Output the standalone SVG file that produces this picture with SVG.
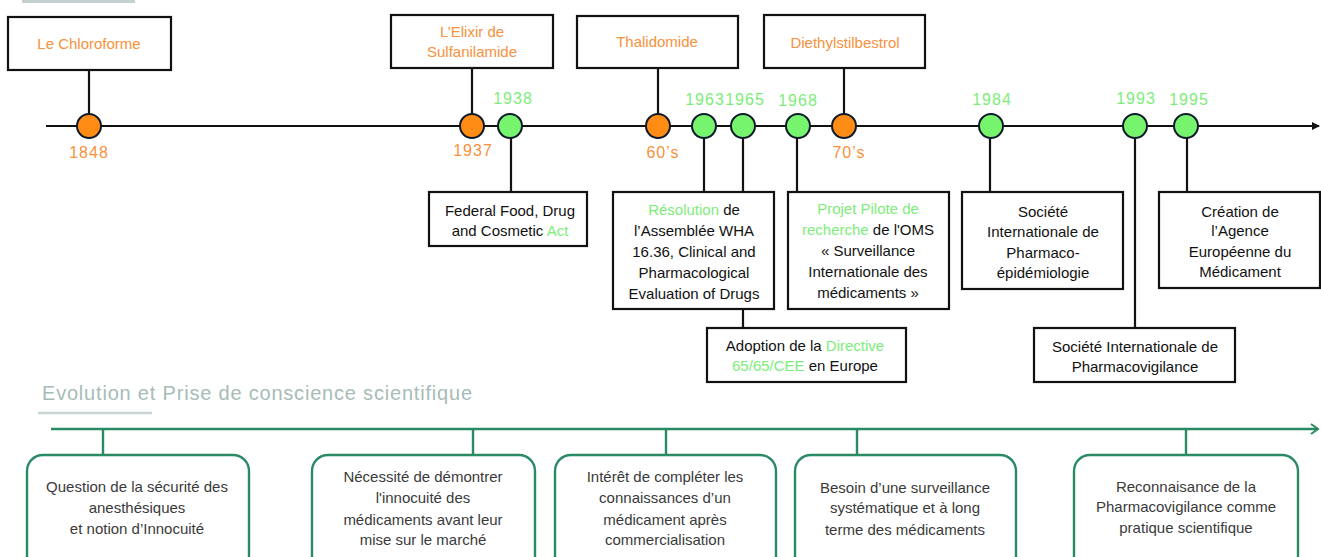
<svg xmlns="http://www.w3.org/2000/svg" width="1321" height="557" viewBox="0 0 1321 557">
<defs>
<style>
.bx{fill:#fff;stroke:#111;stroke-width:2.2}
.gb{fill:#fff;stroke:#2a8a64;stroke-width:2.4}
.cn{stroke:#111;stroke-width:2.2;fill:none}
.gc{stroke:#2a8a64;stroke-width:2.4;fill:none}
.t{font-family:"Liberation Sans",Arial,sans-serif;font-size:15px;fill:#111;text-anchor:middle}
.tb{font-family:"Liberation Sans",Arial,sans-serif;font-size:15px;fill:#3a3a3a;text-anchor:middle}
.or{fill:#f7913d}
.gr{fill:#7ded7a}
.yr{font-family:"Liberation Sans",Arial,sans-serif;font-size:16px;letter-spacing:1px;text-anchor:middle}
.co{fill:#ff8c15;stroke:#0f1a2a;stroke-width:2}
.cg{fill:#77f46e;stroke:#0f1a2a;stroke-width:2}
</style>
<marker id="ah" markerWidth="8" markerHeight="8" refX="7" refY="4" orient="auto" markerUnits="userSpaceOnUse">
<path d="M0,0 L8,4 L0,8 Z" fill="#111"/>
</marker>
<marker id="gh" markerWidth="10" markerHeight="12" refX="8" refY="6" orient="auto" markerUnits="userSpaceOnUse">
<path d="M1,1 L8,6 L1,11" fill="none" stroke="#2a8a64" stroke-width="2"/>
</marker>
</defs>
<rect width="1321" height="557" fill="#fff"/>
<line x1="22" y1="1.5" x2="135" y2="1.5" stroke="#c5d1d1" stroke-width="3"/>

<g id="connectors">
<line class="cn" x1="46" y1="126" x2="1319" y2="126" marker-end="url(#ah)"/>
<line class="cn" x1="89" y1="70" x2="89" y2="126"/>
<line class="cn" x1="472" y1="68" x2="472" y2="126"/>
<line class="cn" x1="658" y1="68" x2="658" y2="126"/>
<line class="cn" x1="844" y1="68" x2="844" y2="126"/>
<line class="cn" x1="511" y1="126" x2="511" y2="192"/>
<line class="cn" x1="704" y1="126" x2="704" y2="192"/>
<line class="cn" x1="743" y1="126" x2="743" y2="192"/>
<line class="cn" x1="743" y1="309" x2="743" y2="328"/>
<line class="cn" x1="797" y1="126" x2="797" y2="192"/>
<line class="cn" x1="990" y1="126" x2="990" y2="192"/>
<line class="cn" x1="1135" y1="126" x2="1135" y2="328"/>
<line class="cn" x1="1187" y1="126" x2="1187" y2="192"/>
<line class="gc" x1="51" y1="429" x2="1318" y2="429" marker-end="url(#gh)"/>
<line class="gc" x1="103" y1="429" x2="103" y2="455"/>
<line class="gc" x1="473" y1="429" x2="473" y2="455"/>
<line class="gc" x1="666" y1="429" x2="666" y2="455"/>
<line class="gc" x1="857" y1="429" x2="857" y2="455"/>
<line class="gc" x1="1186" y1="429" x2="1186" y2="455"/>
</g>

<g id="evt-chloroforme">
<rect class="bx" x="8" y="17" width="163" height="53"/>
<text class="t or" x="89" y="49">Le Chloroforme</text>
</g>
<g id="evt-elixir">
<rect class="bx" x="391" y="15" width="162" height="53"/>
<text class="t or" x="472" y="37">L’Elixir de</text>
<text class="t or" x="472" y="57">Sulfanilamide</text>
</g>
<g id="evt-thalidomide">
<rect class="bx" x="577" y="16" width="161" height="52"/>
<text class="t or" x="657" y="47">Thalidomide</text>
</g>
<g id="evt-diethyl">
<rect class="bx" x="764" y="15" width="161" height="53"/>
<text class="t or" x="845" y="48">Diethylstilbestrol</text>
</g>

<g id="y1848"><circle class="co" cx="89" cy="126" r="12"/><text class="yr or" x="89" y="158">1848</text></g>
<g id="y1937"><circle class="co" cx="472" cy="126" r="12"/><text class="yr or" x="473" y="156">1937</text></g>
<g id="y1938"><circle class="cg" cx="510" cy="126" r="12"/><text class="yr gr" x="513" y="104">1938</text></g>
<g id="y60s"><circle class="co" cx="658" cy="126" r="12"/><text class="yr or" x="663" y="158">60’s</text></g>
<g id="y1963"><circle class="cg" cx="704" cy="126" r="12"/><text class="yr gr" x="705" y="105">1963</text></g>
<g id="y1965"><circle class="cg" cx="743" cy="126" r="12"/><text class="yr gr" x="745" y="105">1965</text></g>
<g id="y1968"><circle class="cg" cx="798" cy="126" r="12"/><text class="yr gr" x="798" y="106">1968</text></g>
<g id="y70s"><circle class="co" cx="844" cy="126" r="12"/><text class="yr or" x="849" y="158">70’s</text></g>
<g id="y1984"><circle class="cg" cx="991" cy="126" r="12"/><text class="yr gr" x="992" y="105">1984</text></g>
<g id="y1993"><circle class="cg" cx="1135" cy="126" r="12"/><text class="yr gr" x="1136" y="104">1993</text></g>
<g id="y1995"><circle class="cg" cx="1186" cy="126" r="12"/><text class="yr gr" x="1189" y="105">1995</text></g>

<g id="evt-fdca">
<rect class="bx" x="429" y="192" width="158" height="54"/>
<text class="t" x="510" y="216">Federal Food, Drug</text>
<text class="t" x="510" y="236">and Cosmetic <tspan class="gr">Act</tspan></text>
</g>
<g id="evt-wha">
<rect class="bx" x="613" y="192" width="161" height="117"/>
<text class="t" x="694" y="215"><tspan class="gr">Résolution</tspan> de</text>
<text class="t" x="694" y="236">l’Assemblée WHA</text>
<text class="t" x="694" y="257">16.36, Clinical and</text>
<text class="t" x="694" y="278">Pharmacological</text>
<text class="t" x="694" y="299">Evaluation of Drugs</text>
</g>
<g id="evt-oms">
<rect class="bx" x="788" y="192" width="161" height="117"/>
<text class="t" x="868" y="214"><tspan class="gr">Projet Pilote de</tspan></text>
<text class="t" x="868" y="235"><tspan class="gr">recherche</tspan> de l'OMS</text>
<text class="t" x="868" y="256">« Surveillance</text>
<text class="t" x="868" y="277">Internationale des</text>
<text class="t" x="868" y="298">médicaments »</text>
</g>
<g id="evt-directive">
<rect class="bx" x="707" y="328" width="199" height="54"/>
<text class="t" x="805" y="351">Adoption de la <tspan class="gr">Directive</tspan></text>
<text class="t" x="805" y="371"><tspan class="gr">65/65/CEE</tspan> en Europe</text>
</g>
<g id="evt-sipe">
<rect class="bx" x="962" y="192" width="161" height="97"/>
<text class="t" x="1043" y="217">Société</text>
<text class="t" x="1043" y="237">Internationale de</text>
<text class="t" x="1043" y="258">Pharmaco-</text>
<text class="t" x="1043" y="278">épidémiologie</text>
</g>
<g id="evt-emea">
<rect class="bx" x="1159" y="192" width="161" height="96"/>
<text class="t" x="1240" y="217">Création de</text>
<text class="t" x="1240" y="236">l’Agence</text>
<text class="t" x="1240" y="257">Européenne du</text>
<text class="t" x="1240" y="277">Médicament</text>
</g>
<g id="evt-sipv">
<rect class="bx" x="1034" y="328" width="201" height="54"/>
<text class="t" x="1135" y="352">Société Internationale de</text>
<text class="t" x="1135" y="372">Pharmacovigilance</text>
</g>

<g id="section-title">
<text x="42" y="400" font-family="'Liberation Sans',Arial,sans-serif" font-size="20" fill="#a7bbb7" textLength="430" lengthAdjust="spacing">Evolution et Prise de conscience scientifique</text>
<line x1="38" y1="413" x2="152" y2="413" stroke="#c8d4d4" stroke-width="2.5"/>
</g>

<g id="step-1">
<rect class="gb" x="27" y="455" width="222" height="120" rx="16"/>
<text class="tb" x="137" y="492">Question de la sécurité des</text>
<text class="tb" x="137" y="513">anesthésiques</text>
<text class="tb" x="137" y="534">et notion d’Innocuité</text>
</g>
<g id="step-2">
<rect class="gb" x="312" y="455" width="223" height="120" rx="16"/>
<text class="tb" x="423" y="482">Nécessité de démontrer</text>
<text class="tb" x="423" y="503">l'innocuité des</text>
<text class="tb" x="423" y="525">médicaments avant leur</text>
<text class="tb" x="423" y="545">mise sur le marché</text>
</g>
<g id="step-3">
<rect class="gb" x="555" y="455" width="221" height="120" rx="16"/>
<text class="tb" x="665" y="482">Intérêt de compléter les</text>
<text class="tb" x="665" y="503">connaissances d’un</text>
<text class="tb" x="665" y="525">médicament après</text>
<text class="tb" x="665" y="545">commercialisation</text>
</g>
<g id="step-4">
<rect class="gb" x="795" y="455" width="221" height="120" rx="16"/>
<text class="tb" x="905" y="493">Besoin d’une surveillance</text>
<text class="tb" x="905" y="513">systématique et à long</text>
<text class="tb" x="905" y="535">terme des médicaments</text>
</g>
<g id="step-5">
<rect class="gb" x="1074" y="455" width="224" height="120" rx="16"/>
<text class="tb" x="1186" y="492">Reconnaisance de la</text>
<text class="tb" x="1186" y="512">Pharmacovigilance comme</text>
<text class="tb" x="1186" y="533">pratique scientifique</text>
</g>
</svg>
